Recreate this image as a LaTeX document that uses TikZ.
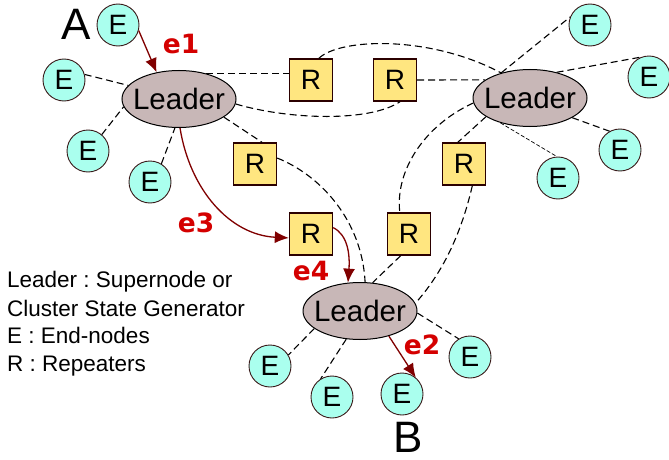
\documentclass[tikz,border=0pt]{standalone}
\usepackage{fontspec}
\setmainfont{Liberation Sans}
\newfontfamily\lblfont{DejaVu Sans}
\usetikzlibrary{shapes.geometric,arrows.meta}
\frenchspacing
\definecolor{efill}{HTML}{AAFFEE}
\definecolor{rfill}{HTML}{FFE680}
\definecolor{lfill}{HTML}{C8B7B7}
\definecolor{arr}{HTML}{800000}
\definecolor{lbl}{HTML}{D40000}
\definecolor{rborder}{HTML}{2B0000}
\definecolor{eborder}{HTML}{3A1A1A}
\begin{document}
\begin{tikzpicture}[x=1pt,y=-1pt,
 endnode/.style={circle,draw=eborder,line width=0.9pt,fill=efill,minimum size=42pt,inner sep=0pt,font=\fontsize{28}{30}\selectfont},
 repeater/.style={rectangle,draw=rborder,line width=1.4pt,fill=rfill,minimum width=43pt,minimum height=42pt,inner sep=0pt,font=\fontsize{28}{30}\selectfont},
 leader/.style={ellipse,draw=black,line width=1pt,fill=lfill,minimum width=114pt,minimum height=57pt,inner sep=0pt,font=\fontsize{29.5}{31}\selectfont},
 link/.style={dash pattern=on 7pt off 4pt,line width=1.1pt},
 thinlink/.style={dash pattern=on 4pt off 2pt,line width=0.7pt},
 hop/.style={draw=arr,line width=1.3pt,-{Latex[length=14pt,width=12pt]}},
 elabel/.style={text=lbl,inner sep=0pt,font=\lblfont\bfseries\fontsize{26.5}{28}\selectfont},
 letter/.style={inner sep=0pt,font=\fontsize{44}{46}\selectfont},
 legend/.style={anchor=base west,inner sep=0pt,font=\fontsize{22.5}{24}\selectfont}]
\useasboundingbox (0,0) rectangle (669,460);

% leaders
\node[leader] (L1) at (179,99) {\makebox[0pt]{Leader}};
\node[leader] (L2) at (530,98) {\makebox[0pt]{Leader}};
\node[leader] (L3) at (360,311) {\makebox[0pt]{Leader}};
% repeaters
\node[repeater] (R1) at (311,80) {R};
\node[repeater] (R2) at (395,80) {R};
\node[repeater] (R3) at (255,164) {R};
\node[repeater] (R4) at (311,234) {R};
\node[repeater] (R5) at (409,234) {R};
\node[repeater] (R6) at (464,164) {R};
% end nodes
\node[endnode] (EA) at (118,25) {E};
\node[endnode] (E1b) at (64,80) {E};
\node[endnode] (E1c) at (88,151) {E};
\node[endnode] (E1d) at (150,182) {E};
\node[endnode] (E2a) at (590,25) {E};
\node[endnode] (E2b) at (649,77) {E};
\node[endnode] (E2c) at (620,150) {E};
\node[endnode] (E2d) at (558,178) {E};
\node[endnode] (E3a) at (270,366) {E};
\node[endnode] (E3b) at (332,397) {E};
\node[endnode] (EB) at (402,394) {E};
\node[endnode] (E3d) at (470,357) {E};

% dashed links, leader 1
\draw[link] (E1b.15) -- (L1.165);
\draw[link] (E1c.50) -- (L1.188);
\draw[link] (E1d.58) -- (L1.262);
\draw[link] (L1.43) -- (L1.43 -| R1.west);
\draw[link] (L1.-5) .. controls (290,120) and (370,122) .. (R2.-77);
\draw[link] (L1.-22) -- (R3.72);
\draw[link] (R3.15) .. controls (320,175) and (362,220) .. (L3.80);
% dashed links, leader 2
\draw[link] (R1.70) .. controls (340,38) and (430,35) .. (L2.139);
\draw[link] (R2.east) -- (L2.158);
\draw[link] (L2.139) -- (E2a.158);
\draw[link] (L2.44) -- (E2b.112);
\draw[link] (L2.-25) -- (E2c.119);
\draw[thinlink] (L2.220) -- (E2d.93);
\draw[link] (L2.185) .. controls (425,125) and (395,170) .. (R5.113);
\draw[link] (L2.203) -- (R6.106);
\draw[link] (R6.-69) .. controls (462,230) and (445,270) .. (L3.8);
% dashed links, leader 3
\draw[link] (R5.249) -- (L3.66);
\draw[link] (L3.201) -- (E3a.31);
\draw[link] (L3.244) -- (E3b.122);
\draw[link] (L3.-2) -- (E3d.122);

% path of entanglement
\draw[hop] (EA.-15) -- (L1.130);
\draw[hop] (L1.272) .. controls (190,190) and (230,235) .. (R4.190);
\draw[hop] (R4.16) .. controls (348,235) and (350,255) .. (L3.113);
\draw[hop] (L3.-41) -- (EB.50);

% labels
\node[letter] (lA) at (76,24) {A};
\node[letter] (lB) at (408,437) {B};
\node[elabel] (e1) at (181,44) {e1};
\node[elabel] (e2) at (422,345) {e2};
\node[elabel] (e3) at (196,223) {e3};
\node[elabel] (e4) at (311,271) {e4};

% legend
\node[legend] (leg1) at (7,287) {Leader : Supernode or};
\node[legend] (leg2) at (7,316) {Cluster State Generator};
\node[legend] (leg3) at (7,343) {E : End-nodes};
\node[legend] (leg4) at (7,371) {R : Repeaters};
\end{tikzpicture}
\end{document}
